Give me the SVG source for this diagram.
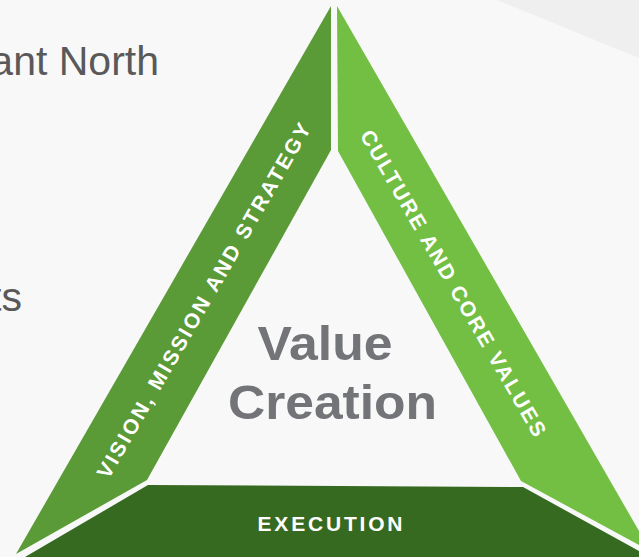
<svg xmlns="http://www.w3.org/2000/svg" width="639" height="557" viewBox="0 0 639 557">
<style>
.band-text{font-family:"Liberation Sans",Arial,sans-serif;font-weight:bold;fill:#ffffff;font-size:21px}
.bg-text{font-family:"Liberation Sans",Arial,sans-serif;fill:#595959;font-size:41px}
.center-text{font-family:"Liberation Sans",Arial,sans-serif;font-weight:bold;fill:#737478;font-size:49px}
</style>
<rect width="639" height="557" fill="#f8f8f8"/>
<polygon points="497,0 639,0 639,58" fill="#efefef"/>
<g id="background-text">
<text class="bg-text" x="159" y="75" text-anchor="end">ant North</text>
<text class="bg-text" x="22" y="311" text-anchor="end">ts</text>
</g>
<g id="vision">
<polygon points="331,6 331,150 147,480 16,554" fill="#5a9a37"/>
<text class="band-text" transform="translate(203.5,300.5) rotate(-60)" text-anchor="middle" dy="7.5" textLength="406" lengthAdjust="spacing">VISION, MISSION AND STRATEGY</text>
</g>
<g id="culture">
<polygon points="337,6 639,531 639,545 521,481 338,151" fill="#72bf44"/>
<text class="band-text" transform="translate(453.5,283) rotate(60)" text-anchor="middle" dy="7.5" textLength="350" lengthAdjust="spacing">CULTURE AND CORE VALUES</text>
</g>
<g id="execution">
<polygon points="148,485 523,487 639,551 639,557 25,557" fill="#376a21"/>
<text class="band-text" x="330" y="531" text-anchor="middle" textLength="145" lengthAdjust="spacing">EXECUTION</text>
</g>
<g id="value-creation">
<text class="center-text" x="325" y="360" text-anchor="middle" textLength="135" lengthAdjust="spacingAndGlyphs">Value</text>
<text class="center-text" x="332.5" y="419" text-anchor="middle" textLength="209" lengthAdjust="spacingAndGlyphs">Creation</text>
</g>
<g id="connectors"></g>
</svg>
